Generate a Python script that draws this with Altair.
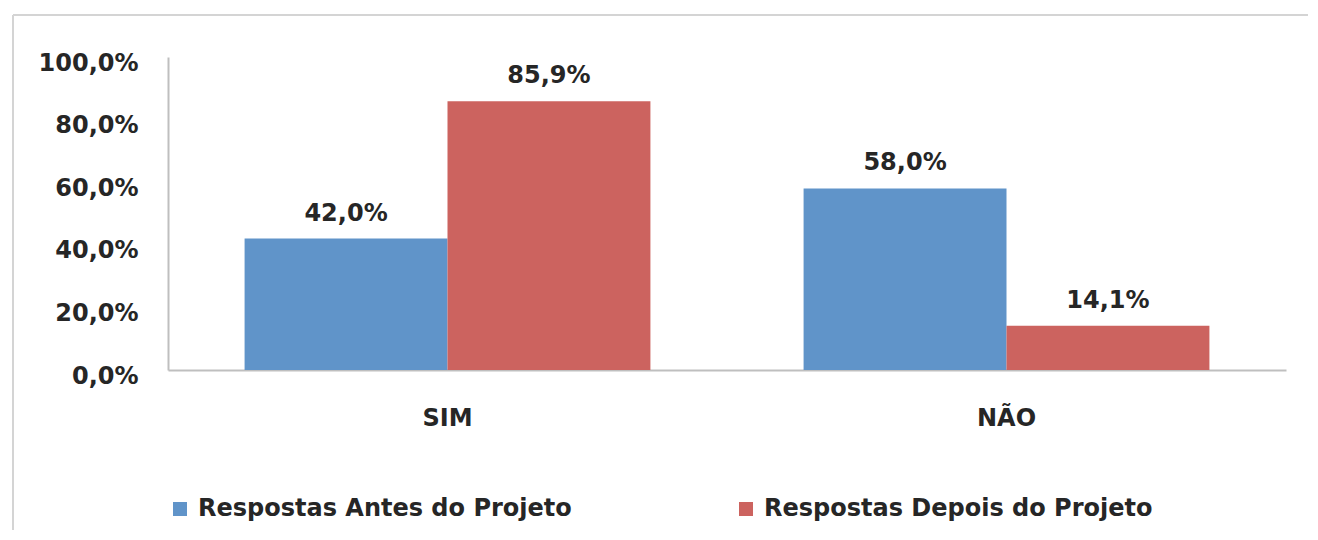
import altair as alt
import pandas as pd

categories = ["SIM", "NÃO"]
series = ["Respostas Antes do Projeto", "Respostas Depois do Projeto"]
antes = [42.0, 58.0]
depois = [85.9, 14.1]
colors = ["#6094C9", "#CC635F"]
y_ticks = [0, 20, 40, 60, 80, 100]

rows = []
for i, c in enumerate(categories):
    rows.append({"cat": c, "serie": series[0], "val": antes[i]})
    rows.append({"cat": c, "serie": series[1], "val": depois[i]})
df = pd.DataFrame(rows)
df["label"] = df["val"].map(lambda v: f"{v:.1f}%".replace(".", ","))

FONT = "DejaVu Sans"
FS = 24
TXT = "#262626"
W, H = 1118, 313

x = alt.X("cat:N", sort=categories, title=None,
          scale=alt.Scale(paddingInner=0.274, paddingOuter=0.137),
          axis=alt.Axis(labelAngle=0, labelFontSize=FS, labelFontWeight="bold",
                        labelColor=TXT, labelFont=FONT, ticks=False,
                        domainColor="#bfbfbf", domainWidth=2, labelPadding=36))
y = alt.Y("val:Q", title=None,
          scale=alt.Scale(domain=[0, 100], nice=False),
          axis=alt.Axis(values=y_ticks, grid=False, ticks=False,
                        domainColor="#bfbfbf", domainWidth=2,
                        labelExpr="replace(format(datum.value, '.1f'), '.', ',') + '%'",
                        labelFontSize=FS, labelFontWeight="bold", labelColor=TXT,
                        labelFont=FONT, labelPadding=30, labelOffset=6))
xo = alt.XOffset("serie:N", sort=series, scale=alt.Scale(paddingInner=0, paddingOuter=0))

bars = alt.Chart(df).mark_bar().encode(
    x=x, xOffset=xo, y=y,
    color=alt.Color("serie:N", sort=series,
                    scale=alt.Scale(domain=series, range=colors),
                    legend=alt.Legend(title=None, orient="none", legendX=0, legendY=440,
                                      direction="horizontal", columns=2,
                                      symbolType="square", symbolSize=196,
                                      symbolStrokeWidth=0, columnPadding=162,
                                      labelFontSize=FS, labelFontWeight="bold",
                                      labelColor=TXT, labelFont=FONT,
                                      labelLimit=600, labelOffset=6)),
)

texts = alt.Chart(df).mark_text(baseline="bottom", dy=-13, fontSize=FS,
                                fontWeight="bold", color=TXT, font=FONT).encode(
    x=alt.X("cat:N", sort=categories), xOffset=xo, y="val:Q", text="label:N"
)

frame_left = alt.Chart(alt.Data(values=[{}])).mark_rule(color="#d4d4d4", strokeWidth=2).encode(
    x=alt.value(-155), y=alt.value(-42), y2=alt.value(540))
frame_top = alt.Chart(alt.Data(values=[{}])).mark_rule(color="#d4d4d4", strokeWidth=2).encode(
    x=alt.value(-155), x2=alt.value(1160), y=alt.value(-42))

chart = alt.layer(frame_left, frame_top, bars, texts).properties(
    width=W, height=H,
    background="white",
    autosize=alt.AutoSizeParams(type="none"),
    padding={"left": 160, "top": 49, "right": 22, "bottom": 160},
).configure_view(strokeWidth=0)

chart.save("out.html", embed_options={"renderer": "svg", "actions": False})
